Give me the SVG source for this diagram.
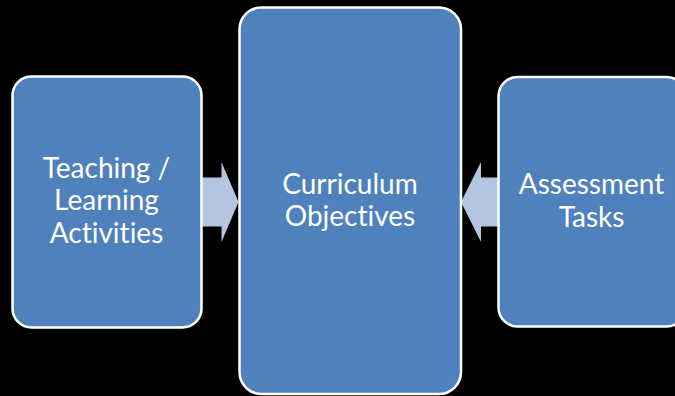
<svg xmlns="http://www.w3.org/2000/svg" width="675" height="396" viewBox="0 0 675 396">
<style>
.box{fill:#4F81BD;stroke:#FFFFFF;stroke-width:2.5}
.arrow{fill:#B4C5E0;stroke:none}
.lbl{font-family:Lato,"Open Sans","Liberation Sans",sans-serif;font-size:28px;fill:#FFFFFF;text-anchor:middle;font-variant-ligatures:none}
</style>
<rect x="0" y="0" width="675" height="396" fill="#000000"/>
<g id="connectors">
<path class="arrow" d="M201,177.5 H221.5 V162 L238.5,202 L221.5,242 V226.5 H201 Z"/>
<path class="arrow" d="M498,177.5 H481 V162 L461,202 L481,242 V226.5 H498 Z"/>
</g>
<g id="node-teaching">
<rect class="box" x="12.5" y="76.5" width="189" height="251" rx="19" ry="19"/>
<text class="lbl" x="106.5" y="177.5">Teaching /</text>
<text class="lbl" x="106.5" y="210">Learning</text>
<text class="lbl" x="106.5" y="242.5">Activities</text>
</g>
<g id="node-curriculum">
<rect class="box" x="239.5" y="7.5" width="221.5" height="386.5" rx="22" ry="22"/>
<text class="lbl" x="350" y="193.5">Curriculum</text>
<text class="lbl" x="350" y="226">Objectives</text>
</g>
<g id="node-assessment">
<rect class="box" x="498.5" y="77" width="187" height="249.5" rx="19" ry="19"/>
<text class="lbl" x="591.5" y="193.5">Assessment</text>
<text class="lbl" x="591.5" y="226.5">Tasks</text>
</g>
</svg>
